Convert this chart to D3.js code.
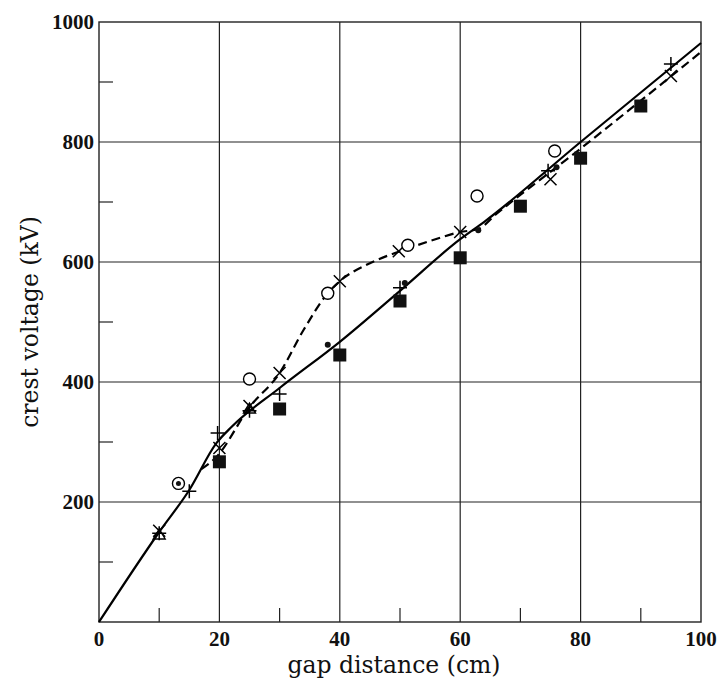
<!DOCTYPE html>
<html>
<head>
<meta charset="utf-8">
<script src="https://cdn.jsdelivr.net/npm/d3@7"></script>
<style>
  body { margin: 0; background: #fff; }
  text { font-family: "DejaVu Serif", "Liberation Serif", serif; fill: #111; }
  .tick-label { font-family: "Liberation Serif", "DejaVu Serif", serif; font-weight: bold; font-size: 21px; }
</style>
</head>
<body>
<svg id="chart" width="722" height="684"></svg>
<script>
// curves
var solidX = [0, 10, 15, 19.5, 22, 30, 40, 50, 60, 64, 80, 100];
var solidY = [0, 150, 220, 298, 325, 390, 467, 552, 638, 667, 800, 965];
var dashX = [17, 19.5, 25, 30, 34, 38, 40, 45, 50, 55, 60, 63, 66, 80, 100];
var dashY = [255, 275, 358, 415, 487, 548, 568, 598, 618, 635, 650, 655, 680, 789, 950];

// markers
var plusPts = [[10, 148], [15, 218], [19.7, 315], [25, 352], [30, 380], [50, 557], [74.6, 752], [95, 930]];
var crossPts = [[10, 152], [20, 290], [25, 360], [30, 415], [40, 568], [49.8, 618], [60, 650], [75, 738], [95, 910]];
var trianglePts = [[10, 145], [25, 355]];
var squarePts = [[20, 267], [30, 355], [40, 445], [50, 535], [60, 607], [70, 693], [80, 773], [90, 860]];
var dotPts = [[38, 462], [50.8, 565], [63, 653], [76, 758]];
var circlePts = [[25, 405], [38, 548], [51.3, 628], [62.8, 710], [75.7, 785]];
var bullseyePts = [[13.2, 231]];

var xTicks = [0, 20, 40, 60, 80, 100];
var yTicks = [200, 400, 600, 800, 1000];
var xMinor = [10, 30, 50, 70, 90];
var yMinor = [100, 300, 500, 700, 900];

var svg = d3.select("#chart"),
  margin = { top: 22, right: 21, bottom: 62, left: 99 },
  width = +svg.attr("width") - margin.left - margin.right,
  height = +svg.attr("height") - margin.top - margin.bottom;

var g = svg.append("g").attr("transform", "translate(" + margin.left + "," + margin.top + ")");

var x = d3.scaleLinear().domain([0, 100]).range([0, width]);
var y = d3.scaleLinear().domain([0, 1000]).range([height, 0]);

// grid
g.selectAll(".vgrid")
  .data(xTicks.slice(1, -1))
  .enter()
  .append("line")
  .attr("x1", function (d) { return x(d); })
  .attr("x2", function (d) { return x(d); })
  .attr("y1", 0)
  .attr("y2", height)
  .attr("stroke", "#222")
  .attr("stroke-width", 1.2);

g.selectAll(".hgrid")
  .data(yTicks.slice(0, -1))
  .enter()
  .append("line")
  .attr("x1", 0)
  .attr("x2", width)
  .attr("y1", function (d) { return y(d); })
  .attr("y2", function (d) { return y(d); })
  .attr("stroke", "#222")
  .attr("stroke-width", 1.2);

g.append("rect")
  .attr("width", width)
  .attr("height", height)
  .attr("fill", "none")
  .attr("stroke", "#222")
  .attr("stroke-width", 1.4);

// minor ticks
g.selectAll(".xminor")
  .data(xMinor)
  .enter()
  .append("line")
  .attr("x1", function (d) { return x(d); })
  .attr("x2", function (d) { return x(d); })
  .attr("y1", height)
  .attr("y2", height - 14)
  .attr("stroke", "#222")
  .attr("stroke-width", 1.2);

g.selectAll(".yminor")
  .data(yMinor)
  .enter()
  .append("line")
  .attr("x1", 0)
  .attr("x2", 14)
  .attr("y1", function (d) { return y(d); })
  .attr("y2", function (d) { return y(d); })
  .attr("stroke", "#222")
  .attr("stroke-width", 1.2);

// tick labels
g.selectAll(".xlab")
  .data(xTicks)
  .enter()
  .append("text")
  .attr("class", "tick-label")
  .attr("x", function (d) { return x(d); })
  .attr("y", height + 24)
  .attr("text-anchor", "middle")
  .text(function (d) { return d; });

g.selectAll(".ylab")
  .data(yTicks)
  .enter()
  .append("text")
  .attr("class", "tick-label")
  .attr("x", -5)
  .attr("y", function (d) { return y(d); })
  .attr("dy", "0.33em")
  .attr("text-anchor", "end")
  .text(function (d) { return d; });

// axis titles
svg.append("text")
  .attr("x", margin.left + x(49))
  .attr("y", 673)
  .attr("text-anchor", "middle")
  .style("font-size", "23.5px")
  .text("gap distance (cm)");

svg.append("text")
  .attr("transform", "translate(38,322) rotate(-90)")
  .attr("text-anchor", "middle")
  .style("font-size", "23.5px")
  .text("crest voltage (kV)");

// curves
var line = d3.line()
  .x(function (d) { return x(d[0]); })
  .y(function (d) { return y(d[1]); })
  .curve(d3.curveMonotoneX);

g.append("path")
  .datum(solidX.map(function (v, i) { return [v, solidY[i]]; }))
  .attr("d", line)
  .attr("fill", "none")
  .attr("stroke", "#000")
  .attr("stroke-width", 2.2);

g.append("path")
  .datum(dashX.map(function (v, i) { return [v, dashY[i]]; }))
  .attr("d", line)
  .attr("fill", "none")
  .attr("stroke", "#000")
  .attr("stroke-width", 2.2)
  .attr("stroke-dasharray", "9,5");

// markers
function pos(d) {
  return "translate(" + x(d[0]) + "," + y(d[1]) + ")";
}

g.selectAll(".sq")
  .data(squarePts)
  .enter()
  .append("rect")
  .attr("transform", pos)
  .attr("x", -6.5)
  .attr("y", -6.5)
  .attr("width", 13)
  .attr("height", 13)
  .attr("fill", "#111");

g.selectAll(".plus")
  .data(plusPts)
  .enter()
  .append("path")
  .attr("transform", pos)
  .attr("d", "M-7,0H7M0,-7V7")
  .attr("stroke", "#000")
  .attr("stroke-width", 1.5);

g.selectAll(".cross")
  .data(crossPts)
  .enter()
  .append("path")
  .attr("transform", pos)
  .attr("d", "M-6,-6L6,6M-6,6L6,-6")
  .attr("stroke", "#000")
  .attr("stroke-width", 1.5);

g.selectAll(".tri")
  .data(trianglePts)
  .enter()
  .append("path")
  .attr("transform", pos)
  .attr("d", "M0,-6L6,4H-6Z")
  .attr("fill", "none")
  .attr("stroke", "#000")
  .attr("stroke-width", 1.4);

g.selectAll(".circ")
  .data(circlePts)
  .enter()
  .append("circle")
  .attr("transform", pos)
  .attr("r", 6)
  .attr("fill", "#fff")
  .attr("stroke", "#000")
  .attr("stroke-width", 1.4);

g.selectAll(".dot")
  .data(dotPts)
  .enter()
  .append("circle")
  .attr("transform", pos)
  .attr("r", 3)
  .attr("fill", "#111");

var bull = g.selectAll(".bull")
  .data(bullseyePts)
  .enter()
  .append("g")
  .attr("transform", pos);
bull.append("circle").attr("r", 6).attr("fill", "#fff").attr("stroke", "#000").attr("stroke-width", 1.4);
bull.append("circle").attr("r", 2.5).attr("fill", "#111");
</script>
</body>
</html>
